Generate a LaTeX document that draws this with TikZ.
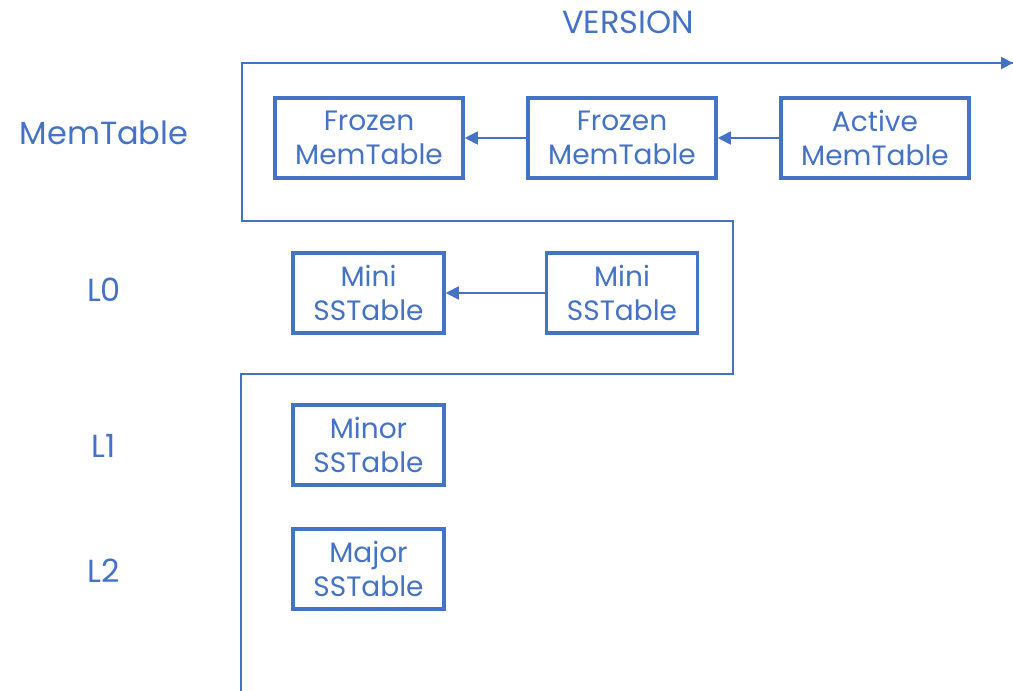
\documentclass[tikz,border=0pt]{standalone}
\usepackage{fontspec}
\setmainfont{Poppins}
\usetikzlibrary{arrows.meta}
\definecolor{accent}{HTML}{4472C4}
\tikzset{
  blk/.style={draw=accent, line width=3.5pt, text=accent, align=center,
    font=\fontsize{28}{34}\selectfont, inner sep=0pt},
  lbl/.style={text=accent, font=\fontsize{32}{36}\selectfont},
  link/.style={draw=accent, line width=1.8pt, -{Triangle[length=13pt,width=13pt]}},
  axis/.style={draw=accent, line width=2.6pt},
}
\begin{document}
\begin{tikzpicture}[x=1pt,y=-1pt]
\useasboundingbox (0,0) rectangle (1013,691);
% level labels
\node[lbl] (ver) at (628,22) {VERSION};
\node[lbl] (lm) at (104,133) {MemTable};
\node[lbl] (l0) at (104,290) {L0};
\node[lbl] (l1) at (104,446) {L1};
\node[lbl] (l2) at (104,571) {L2};
% version boundary line
\coordinate (p0) at (241,691);
\coordinate (p1) at (241,374);
\coordinate (p2) at (733,374);
\coordinate (p3) at (733,221);
\coordinate (p4) at (242,221);
\coordinate (p5) at (242,63);
\coordinate (p6) at (1013,63);
\draw[axis] (p0) -- (p1) -- (p2) -- (p3) -- (p4) -- (p5) -- (p6);
\draw[axis, -{Triangle[length=12pt,width=12pt]}] (990,63) -- (p6);
% memtables
\node[blk, minimum width=188, minimum height=80] (fz1) at (369,138) {Frozen\\MemTable};
\node[blk, minimum width=188, minimum height=80] (fz2) at (622,138) {Frozen\\MemTable};
\node[blk, minimum width=188, minimum height=80] (act) at (875,138) {Active\\MemTable};
% sstables
\node[blk, minimum width=151, minimum height=80] (mn1) at (368.5,293) {Mini\\SSTable};
\node[blk, minimum width=151, minimum height=80] (mn2) at (622,293) {Mini\\SSTable};
\node[blk, minimum width=151, minimum height=80] (mnr) at (368.5,445) {Minor\\SSTable};
\node[blk, minimum width=151, minimum height=80] (mjr) at (368.5,569) {Major\\SSTable};
% links
\draw[link] (act.west) -- (fz2.east);
\draw[link] (fz2.west) -- (fz1.east);
\draw[link] (mn2.west) -- (mn1.east);
\end{tikzpicture}
\end{document}
